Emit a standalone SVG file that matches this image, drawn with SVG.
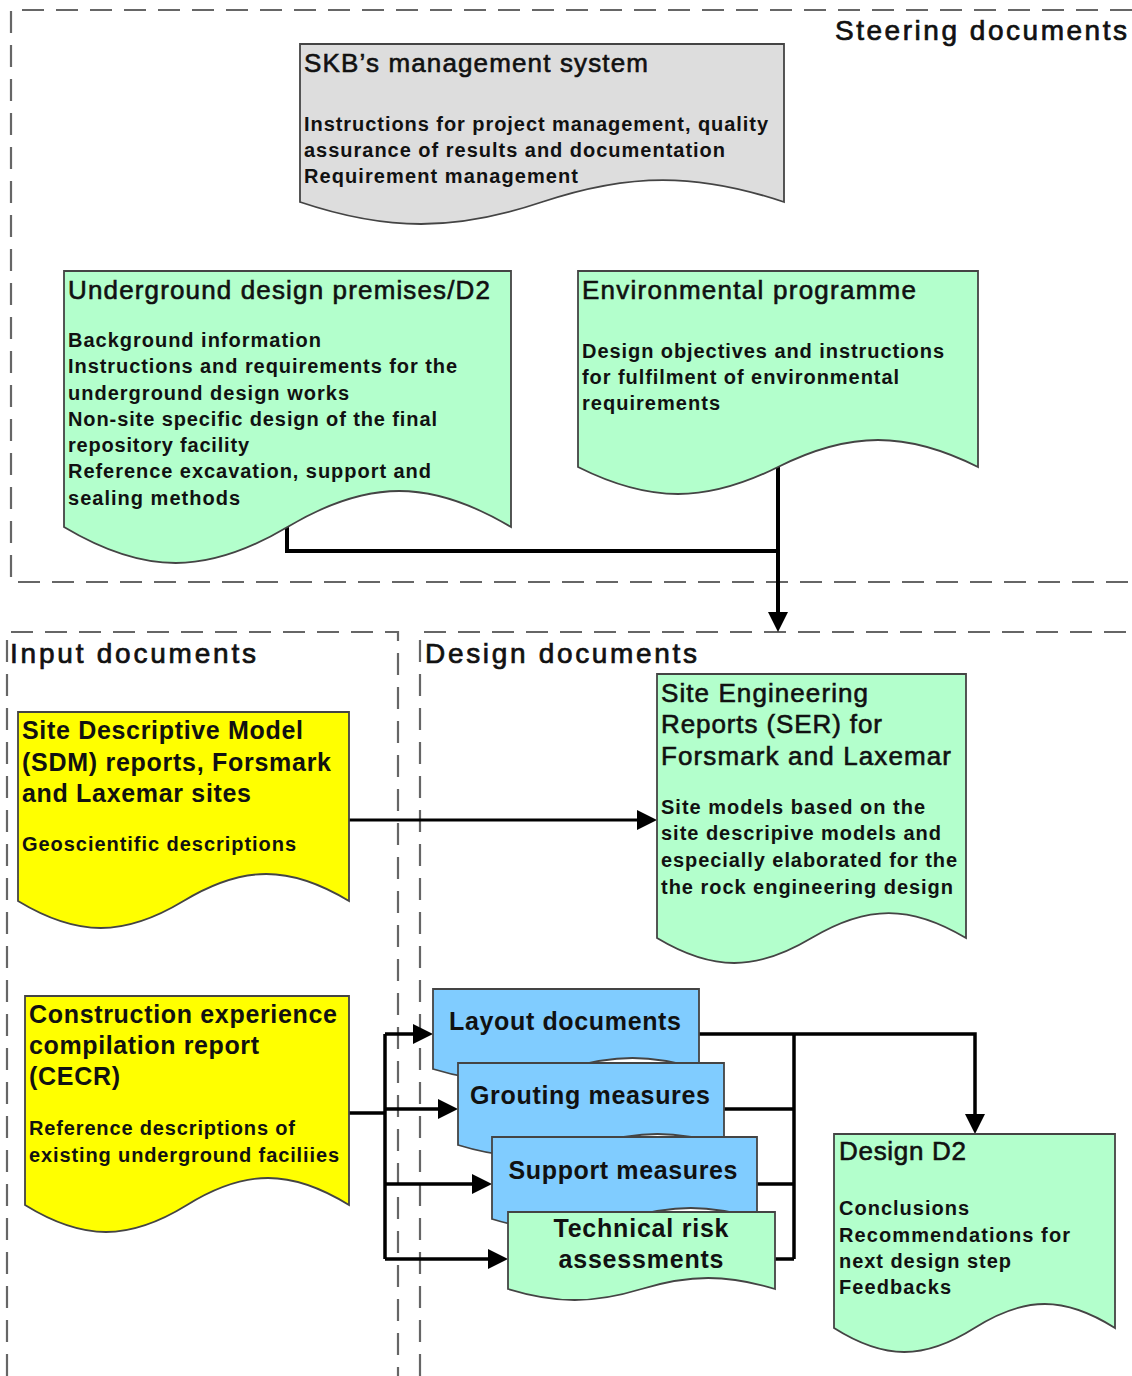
<svg xmlns="http://www.w3.org/2000/svg" width="1132" height="1376" viewBox="0 0 1132 1376">
<defs>
<style>
.region{fill:none;stroke:#666;stroke-width:2.2;stroke-dasharray:22 12}
.doc{stroke:#444;stroke-width:1.8}
.gray{fill:#dddddd}
.green{fill:#b3ffcc}
.yellow{fill:#ffff00}
.blue{fill:#80ccff}
text{font-family:"Liberation Sans",Arial,sans-serif;fill:#111}
.title{font-size:28px;stroke:#111;stroke-width:0.7}
.h{font-size:26px;stroke:#111;stroke-width:0.6}
.hb{font-size:25px;font-weight:bold}
.b{font-size:20px;font-weight:bold}
.c{text-anchor:middle}
.conn{fill:none;stroke:#000;stroke-width:3.5}
</style>
<marker id="arr" viewBox="0 0 20 20" refX="10" refY="10" markerWidth="20" markerHeight="20" markerUnits="userSpaceOnUse" orient="auto">
<path d="M0,0 L20,10 L0,20 Z" fill="#000"/>
</marker>
</defs>
<rect width="1132" height="1376" fill="#fff"/>

<g id="regions">
<path class="region" d="M1132,10 H11 V582 H1132"/>
<path class="region" d="M7,1376 V632 H398 V1376"/>
<path class="region" d="M420,1376 V632 H1132"/>
<text class="title" x="835" y="40" textLength="292" lengthAdjust="spacing">Steering documents</text>
<text class="title" x="10" y="663" textLength="246" lengthAdjust="spacing">Input documents</text>
<text class="title" x="425" y="663" textLength="272" lengthAdjust="spacing">Design documents</text>
</g>

<g id="connectors">
<path class="conn" style="stroke-width:4" d="M287,527 V551 H778"/>
<path class="conn" style="stroke-width:4" d="M778,467 V622" marker-end="url(#arr)"/>
<path class="conn" style="stroke-width:3" d="M349,820 H647" marker-end="url(#arr)"/>
<path class="conn" d="M349,1113 H385"/>
<path class="conn" d="M385,1034 V1259"/>
<path class="conn" d="M385,1034 H423" marker-end="url(#arr)"/>
<path class="conn" d="M385,1109 H448" marker-end="url(#arr)"/>
<path class="conn" d="M385,1184 H482" marker-end="url(#arr)"/>
<path class="conn" d="M385,1259 H498" marker-end="url(#arr)"/>
<path class="conn" d="M699,1034 H975 V1124" marker-end="url(#arr)"/>
<path class="conn" d="M794,1034 V1259"/>
<path class="conn" d="M724,1109 H794"/>
<path class="conn" d="M757,1184 H794"/>
<path class="conn" d="M775,1259 H794"/>
</g>

<g id="skb">
<path class="doc gray" d="M300,44 H784 V202 C696.9,172.7 629.1,172.7 542,202 C454.9,231.3 387.1,231.3 300,202 Z"/>
<text class="h" x="304" y="72" textLength="344" lengthAdjust="spacing">SKB’s management system</text>
<text class="b" x="304" y="131" textLength="464" lengthAdjust="spacing">Instructions for project management, quality</text>
<text class="b" x="304" y="157" textLength="421" lengthAdjust="spacing">assurance of results and documentation</text>
<text class="b" x="304" y="183" textLength="274" lengthAdjust="spacing">Requirement management</text>
</g>

<g id="underground">
<path class="doc green" d="M64,271 H511 V527 C430.5,479 368,479 287.5,527 C207,575 144.5,575 64,527 Z"/>
<text class="h" x="68" y="299" textLength="422" lengthAdjust="spacing">Underground design premises/D2</text>
<text class="b" x="68" y="347" textLength="253" lengthAdjust="spacing">Background information</text>
<text class="b" x="68" y="373" textLength="389" lengthAdjust="spacing">Instructions and requirements for the</text>
<text class="b" x="68" y="400" textLength="281" lengthAdjust="spacing">underground design works</text>
<text class="b" x="68" y="426" textLength="369" lengthAdjust="spacing">Non-site specific design of the final</text>
<text class="b" x="68" y="452" textLength="181" lengthAdjust="spacing">repository facility</text>
<text class="b" x="68" y="478" textLength="363" lengthAdjust="spacing">Reference excavation, support and</text>
<text class="b" x="68" y="505" textLength="172" lengthAdjust="spacing">sealing methods</text>
</g>

<g id="environmental">
<path class="doc green" d="M578,271 H978 V467 C906,431 850,431 778,467 C706,503 650,503 578,467 Z"/>
<text class="h" x="582" y="299" textLength="334" lengthAdjust="spacing">Environmental programme</text>
<text class="b" x="582" y="358" textLength="362" lengthAdjust="spacing">Design objectives and instructions</text>
<text class="b" x="582" y="384" textLength="317" lengthAdjust="spacing">for fulfilment of environmental</text>
<text class="b" x="582" y="410" textLength="138" lengthAdjust="spacing">requirements</text>
</g>

<g id="sdm">
<path class="doc yellow" d="M18,712 H349 V901 C289.4,865 243.1,865 183.5,901 C123.9,937 77.6,937 18,901 Z"/>
<text class="hb" x="22" y="739" textLength="281" lengthAdjust="spacing">Site Descriptive Model</text>
<text class="hb" x="22" y="771" textLength="309" lengthAdjust="spacing">(SDM) reports, Forsmark</text>
<text class="hb" x="22" y="802" textLength="229" lengthAdjust="spacing">and Laxemar sites</text>
<text class="b" x="22" y="851" textLength="274" lengthAdjust="spacing">Geoscientific descriptions</text>
</g>

<g id="ser">
<path class="doc green" d="M657,674 H966 V938 C910.4,904.7 867.1,904.7 811.5,938 C755.9,971.3 712.6,971.3 657,938 Z"/>
<text class="h" x="661" y="702" textLength="207" lengthAdjust="spacing">Site Engineering</text>
<text class="h" x="661" y="733" textLength="221" lengthAdjust="spacing">Reports (SER) for</text>
<text class="h" x="661" y="765" textLength="290" lengthAdjust="spacing">Forsmark and Laxemar</text>
<text class="b" x="661" y="814" textLength="264" lengthAdjust="spacing">Site models based on the</text>
<text class="b" x="661" y="840" textLength="280" lengthAdjust="spacing">site descripive models and</text>
<text class="b" x="661" y="867" textLength="296" lengthAdjust="spacing">especially elaborated for the</text>
<text class="b" x="661" y="894" textLength="292" lengthAdjust="spacing">the rock engineering design</text>
</g>

<g id="cecr">
<path class="doc yellow" d="M25,996 H349 V1205 C290.7,1169 245.3,1169 187,1205 C128.7,1241 83.3,1241 25,1205 Z"/>
<text class="hb" x="29" y="1023" textLength="308" lengthAdjust="spacing">Construction experience</text>
<text class="hb" x="29" y="1054" textLength="230" lengthAdjust="spacing">compilation report</text>
<text class="hb" x="29" y="1085" textLength="91" lengthAdjust="spacing">(CECR)</text>
<text class="b" x="29" y="1135" textLength="266" lengthAdjust="spacing">Reference descriptions of</text>
<text class="b" x="29" y="1162" textLength="310" lengthAdjust="spacing">existing underground faciliies</text>
</g>

<g id="layout">
<path class="doc blue" d="M433,989 H699 V1069 C651.1,1054.3 613.9,1054.3 566,1069 C518.1,1083.7 480.9,1083.7 433,1069 Z"/>
<text class="hb c" x="565" y="1030" textLength="232" lengthAdjust="spacing">Layout documents</text>
</g>

<g id="grouting">
<path class="doc blue" d="M458,1063 H724 V1145 C676.1,1130.3 638.9,1130.3 591,1145 C543.1,1159.7 505.9,1159.7 458,1145 Z"/>
<text class="hb c" x="590" y="1104" textLength="240" lengthAdjust="spacing">Grouting measures</text>
</g>

<g id="support">
<path class="doc blue" d="M492,1137 H757 V1219 C709.3,1204.3 672.2,1204.3 624.5,1219 C576.8,1233.7 539.7,1233.7 492,1219 Z"/>
<text class="hb c" x="623" y="1179" textLength="229" lengthAdjust="spacing">Support measures</text>
</g>

<g id="technical">
<path class="doc green" d="M508,1212 H775 V1289 C726.9,1274.3 689.6,1274.3 641.5,1289 C593.4,1303.7 556.1,1303.7 508,1289 Z"/>
<text class="hb c" x="641" y="1237" textLength="175" lengthAdjust="spacing">Technical risk</text>
<text class="hb c" x="641" y="1268" textLength="165" lengthAdjust="spacing">assessments</text>
</g>

<g id="designd2">
<path class="doc green" d="M834,1134 H1115 V1328 C1064.4,1296 1025.1,1296 974.5,1328 C923.9,1360 884.6,1360 834,1328 Z"/>
<text class="h" x="839" y="1160" textLength="127" lengthAdjust="spacing">Design D2</text>
<text class="b" x="839" y="1215" textLength="130" lengthAdjust="spacing">Conclusions</text>
<text class="b" x="839" y="1242" textLength="231" lengthAdjust="spacing">Recommendations for</text>
<text class="b" x="839" y="1268" textLength="172" lengthAdjust="spacing">next design step</text>
<text class="b" x="839" y="1294" textLength="112" lengthAdjust="spacing">Feedbacks</text>
</g>
</svg>
